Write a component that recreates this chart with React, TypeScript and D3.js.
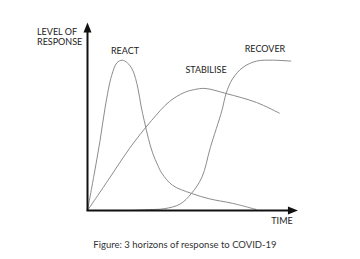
import React from "react";
import * as d3 from "d3";

// time (0-100) and level of response (0-100)
const reactTime = [0, 3, 6, 8.5, 11.5, 14, 16.5, 19, 21.5, 24, 25.5, 27, 29, 31, 33.5, 35.5, 40.5, 49.5, 58, 69, 80.5];
const reactLevel = [0, 19, 39, 58, 75, 82, 83.5, 82, 78, 68, 58, 50, 40, 32, 25, 20.5, 14, 9.5, 6.5, 4, 0.5];

const stabiliseTime = [0, 10.5, 20, 30.5, 39, 46, 51, 56, 66, 80.5, 91.5];
const stabiliseLevel = [0, 18, 34.5, 50, 60.5, 65.5, 67.2, 67.8, 65, 60, 54];

const recoverTime = [0, 20, 29.5, 36.5, 44, 49.5, 54.5, 58.5, 64, 66, 69, 74, 80.5, 88, 97];
const recoverLevel = [0, 0, 0.5, 1, 3.5, 9.5, 18.5, 35, 55.5, 65, 73, 79.5, 83, 83.5, 83];

const seriesNames = ["REACT", "STABILISE", "RECOVER"];
const yAxisTitle = ["LEVEL OF", "RESPONSE"];
const xAxisTitle = "TIME";
const caption = "Figure: 3 horizons of response to COVID-19";

const W = 360;
const H = 259;

export default function App() {
  const x = d3.scaleLinear().domain([0, 100]).range([87.5, 297.5]);
  const y = d3.scaleLinear().domain([0, 100]).range([210.5, 30.5]);

  const line = d3
    .line<[number, number]>()
    .x((d) => x(d[0]))
    .y((d) => y(d[1]))
    .curve(d3.curveCatmullRom.alpha(0.5));

  const zip = (a: number[], b: number[]) => a.map((v, i) => [v, b[i]] as [number, number]);
  const series = [
    zip(reactTime, reactLevel),
    zip(stabiliseTime, stabiliseLevel),
    zip(recoverTime, recoverLevel),
  ];

  const font = "Lato, 'Open Sans', sans-serif";
  const x0 = x(0);
  const y0 = y(0);
  const yTop = y(104.5);
  const xEnd = x(100.2);

  return (
    <div style={{ position: "absolute", left: 0, top: 0, width: W, height: H, background: "#fff" }}>
      <svg width={W} height={H} style={{ display: "block" }}>
        <rect width={W} height={H} fill="#fff" />
        {series.map((s, i) => (
          <path key={i} d={line(s) || ""} fill="none" stroke="#8c8c8c" strokeWidth={1} />
        ))}
        {/* axes */}
        <line x1={x0} y1={y0} x2={x0} y2={yTop + 8} stroke="#111" strokeWidth={2} />
        <line x1={x0 - 1} y1={y0} x2={xEnd - 8} y2={y0} stroke="#111" strokeWidth={2} />
        <path d={`M${x0},${yTop} L${x0 - 4},${yTop + 10} L${x0 + 4},${yTop + 10} Z`} fill="#111" />
        <path d={`M${xEnd},${y0} L${xEnd - 10},${y0 - 4} L${xEnd - 10},${y0 + 4} Z`} fill="#111" />
        {/* labels */}
        <g fontFamily={font} fontSize={9} fill="#222">
          <text x={37} y={34.5}>{yAxisTitle[0]}</text>
          <text x={37} y={44.5}>{yAxisTitle[1]}</text>
          <text x={125} y={54} textAnchor="middle">{seriesNames[0]}</text>
          <text x={206} y={73} textAnchor="middle">{seriesNames[1]}</text>
          <text x={265} y={52} textAnchor="middle">{seriesNames[2]}</text>
          <text x={282} y={224} textAnchor="middle">{xAxisTitle}</text>
          <text x={185} y={248} textAnchor="middle" fill="#333" fontSize={9.5}>{caption}</text>
        </g>
      </svg>
    </div>
  );
}
